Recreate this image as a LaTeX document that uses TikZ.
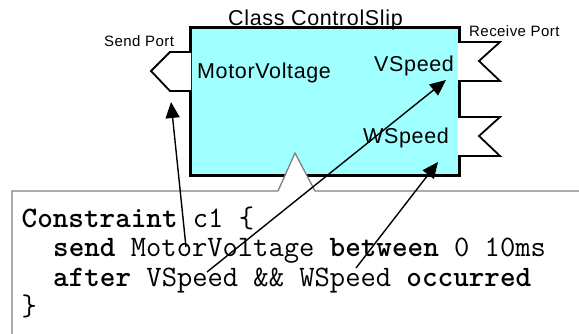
\documentclass[tikz,border=0pt]{standalone}
\usepackage{fontspec}
\setmainfont{Liberation Sans}
\newfontfamily\labelfont[LetterSpace=3]{Liberation Sans}
\newfontfamily\codefont{Latin Modern Mono}[BoldFont={Latin Modern Mono Light/B}]
\usetikzlibrary{arrows.meta}
\definecolor{classfill}{RGB}{160,255,255}
\definecolor{notegray}{RGB}{128,128,128}
\tikzset{
  classbox/.style={draw=black, line width=3pt, fill=classfill},
  portshape/.style={draw=black, line width=1.8pt, fill=white, line join=miter},
  bigtext/.style={font=\labelfont\fontsize{21.5}{24}\selectfont, anchor=base west, inner sep=0pt},
  smalltext/.style={font=\labelfont\fontsize{15}{17}\selectfont, anchor=base west, inner sep=0pt},
  codeline/.style={font=\codefont\fontsize{29.7}{31}\selectfont, anchor=base west, inner sep=0pt},
  notelines/.style={draw=notegray, line width=1.3pt},
  link/.style={draw=black, line width=1.4pt, -{Triangle[length=16pt, width=14pt]}}
}
\begin{document}
\begin{tikzpicture}[x=1pt, y=-1pt]
\useasboundingbox (0,0) rectangle (579,333);
% class box
\path[classbox] (190,27) rectangle (459,175);
% send port
\path[portshape] (191,52) -- (170,52) -- (151,71) -- (170,91) -- (191,91);
% receive ports
\path[portshape] (458,42) -- (500,42) -- (479,61) -- (500,81) -- (458,81);
\path[portshape] (458,117) -- (500,117) -- (479,136) -- (500,156) -- (458,156);
% note
\fill[white] (12,191) -- (278,191) -- (295,153) -- (315,191) -- (579,191) -- (579,333) -- (12,333) -- cycle;
\path[notelines] (12,334) -- (12,191) -- (278,191) -- (295,153) -- (315,191) -- (580,191);
% labels
\node[bigtext] (title) at (228,25) {Class ControlSlip};
\node[bigtext] (mv) at (197,78) {MotorVoltage};
\node[bigtext] (vs) at (374,71) {VSpeed};
\node[bigtext] (ws) at (363,143) {WSpeed};
\node[smalltext] (sp) at (104,46) {Send Port};
\node[smalltext] (rp) at (469,36) {Receive Port};
% code
\node[codeline] (l1) at (21.5,227.5) {\textbf{Constraint} c1 \{};
\node[codeline] (l2) at (53,256.5) {\textbf{send} MotorVoltage \textbf{between} 0 10ms};
\node[codeline] (l3) at (53,286) {\textbf{after} VSpeed \&\& WSpeed \textbf{occurred}};
\node[codeline] (l4) at (21.5,315) {\}};
% connector ends
\coordinate (mvsrc) at (186,247);
\coordinate (vssrc) at (207,272);
\coordinate (wssrc) at (356,268);
\coordinate (sptip) at (171,102);
\coordinate (vstip) at (446,80);
\coordinate (wstip) at (438,162);
\draw[link] (mvsrc) -- (sptip);
\draw[link] (vssrc) -- (vstip);
\draw[link] (wssrc) -- (wstip);
\end{tikzpicture}
\end{document}
